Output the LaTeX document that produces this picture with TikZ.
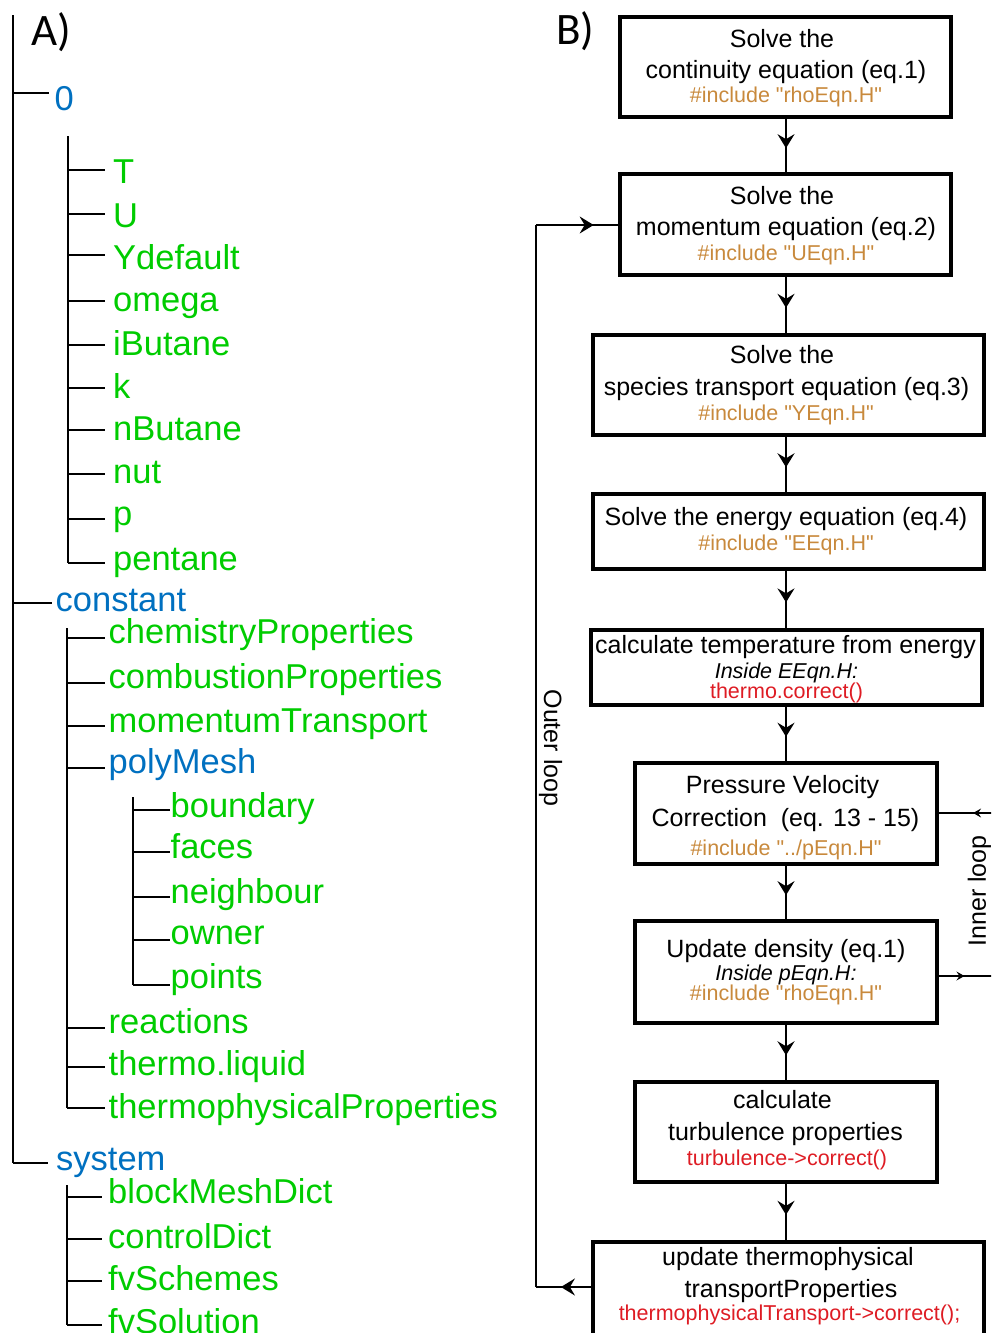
\documentclass[tikz,border=0pt]{standalone}
\usepackage{fontspec}
\setmainfont{Liberation Sans}[Ligatures=TeXOff]
\newfontfamily\LabFont{Carlito}
\usetikzlibrary{arrows.meta,decorations.markings}
\definecolor{treeblue}{RGB}{0,112,192}
\definecolor{treegreen}{RGB}{0,204,0}
\definecolor{codeorange}{RGB}{200,137,60}
\definecolor{codered}{RGB}{222,28,36}
\newcommand\TreeFont{\fontsize{34.5}{40}\selectfont}
\newcommand\BoxFont{\fontsize{25}{30}\selectfont}
\newcommand\CodeFont{\fontsize{21.5}{26}\selectfont}
\newcommand\BigLab{\LabFont\fontsize{45}{50}\selectfont}
\tikzset{
  dirnode/.style={anchor=base west, inner ysep=0pt, font=\TreeFont, text=treeblue},
  filenode/.style={anchor=base west, inner ysep=0pt, font=\TreeFont, text=treegreen},
  tline/.style={line width=2pt},
  fbox/.style={draw, line width=3.3pt, inner sep=0pt},
  btext/.style={anchor=base, inner sep=0pt, font=\BoxFont},
  ctext/.style={anchor=base, inner sep=0pt, font=\CodeFont, text=codeorange},
  rtext/.style={anchor=base, inner sep=0pt, font=\CodeFont, text=codered},
  itext/.style={anchor=base, inner sep=0pt, font=\CodeFont\itshape},
  flow/.style={line width=2pt, postaction={decorate}, decoration={markings, mark=at position #1 with {\arrow{Stealth[length=14pt,width=17pt,inset=5pt]}}}},
  loopflow/.style={line width=1.6pt, postaction={decorate}, decoration={markings, mark=at position #1 with {\arrow{Stealth[length=14pt,width=17pt,inset=5pt]}}}},
  innerflow/.style={line width=1.3pt, postaction={decorate}, decoration={markings, mark=at position #1 with {\arrow{Stealth[length=8pt,width=9pt,inset=3pt]}}}},
  looplabel/.style={font=\BoxFont, inner sep=0pt}
}
\begin{document}
\begin{tikzpicture}[x=1pt,y=-1pt]
\clip (0,0) rectangle (991,1333);
% ---------------- A) tree ----------------
\node[font=\BigLab, anchor=base west, inner sep=0pt] (labA) at (31,45) {A)};
\coordinate (vmain) at (13,15);
\node[dirnode, inner xsep=5.5pt] (d0) at (49,110) {0};
\node[dirnode, inner xsep=3.5pt] (dconst) at (52,611) {constant};
\node[dirnode, inner xsep=8pt] (dsys) at (48,1170) {system};
\draw[tline] (vmain) -- (vmain |- 0,1163);
\draw[tline] (vmain |- 0,93) -- (d0.west |- 0,93);
\draw[tline] (vmain |- 0,603) -- (dconst.west |- 0,603);
\draw[tline] (vmain |- 0,1163) -- (dsys.west |- 0,1163);
% children of 0
\coordinate (v0) at (68,136);
\draw[tline] (v0) -- (v0 |- 0,563);
\foreach \nm/\bl/\br/\txt in {fT/183/170/T, fU/227/214/U, fY/269/255/Ydefault, fom/311/301/omega,
  fiB/355/345/iButane, fk/398/388/k, fnB/440/430/nButane, fnut/483/474/nut, fp/525/519/p, fpent/570/563/pentane}{
  \node[filenode, inner xsep=8pt] (\nm) at (105,\bl) {\txt};
  \draw[tline] (v0 |- 0,\br) -- (\nm.west |- 0,\br);
}
% children of constant
\coordinate (v1) at (67,628);
\draw[tline] (v1) -- (v1 |- 0,1108);
\foreach \nm/\bl/\br/\txt in {cchem/643/638/chemistryProperties, ccomb/688/683/combustionProperties,
  cmom/732/726/momentumTransport, creac/1033/1028/reactions, cliq/1075/1067/thermo.liquid,
  cthp/1118/1108/thermophysicalProperties}{
  \node[filenode, inner xsep=3.5pt] (\nm) at (105,\bl) {\txt};
  \draw[tline] (v1 |- 0,\br) -- (\nm.west |- 0,\br);
}
\node[dirnode, inner xsep=3.5pt] (cpoly) at (105,773) {polyMesh};
\draw[tline] (v1 |- 0,768) -- (cpoly.west |- 0,768);
% children of polyMesh
\coordinate (v2) at (133,797);
\draw[tline] (v2) -- (v2 |- 0,985);
\foreach \nm/\bl/\br/\txt in {pbound/817/810/boundary, pfaces/858/852/faces, pneigh/903/897/neighbour,
  powner/944/940/owner, ppoints/988/985/points}{
  \node[filenode, inner xsep=0.5pt] (\nm) at (170,\bl) {\txt};
  \draw[tline] (v2 |- 0,\br) -- (\nm.west |- 0,\br);
}
% children of system
\coordinate (v3) at (67,1185);
\draw[tline] (v3) -- (v3 |- 0,1325);
\foreach \nm/\bl/\br/\txt in {sblock/1203/1197/blockMeshDict, sctrl/1248/1239/controlDict,
  ssch/1290/1281/fvSchemes, ssol/1333/1325/fvSolution}{
  \node[filenode, inner xsep=6pt] (\nm) at (102,\bl) {\txt};
  \draw[tline] (v3 |- 0,\br) -- (\nm.west |- 0,\br);
}
% ---------------- B) flowchart ----------------
\node[font=\BigLab, anchor=base west, inner sep=0pt] (labB) at (556,44) {B)};
\coordinate (spine) at (786,0);
\node[fbox, minimum width=331pt, minimum height=100pt] (b1) at (785.5,67) {};
\node[fbox, minimum width=331pt, minimum height=101pt] (b2) at (785.5,224.5) {};
\node[fbox, minimum width=391pt, minimum height=100pt] (b3) at (788.5,385) {};
\node[fbox, minimum width=391pt, minimum height=75pt] (b4) at (788.5,531.5) {};
\node[fbox, minimum width=391pt, minimum height=75pt] (b5) at (786.5,667.5) {};
\node[fbox, minimum width=302pt, minimum height=101pt] (b6) at (786,813.5) {};
\node[fbox, minimum width=302pt, minimum height=102pt] (b7) at (786,972) {};
\node[fbox, minimum width=302pt, minimum height=100pt] (b8) at (786,1132) {};
\node[fbox, minimum width=391pt, minimum height=100pt] (b9) at (788.5,1292) {};
% box texts
\node[btext] (t1a) at (782,47) {Solve the};
\node[btext] (t1b) at (786,78) {continuity equation (eq.1)};
\node[ctext] (t1c) at (786,102) {\#include "rhoEqn.H"};
\node[btext] (t2a) at (782,204) {Solve the};
\node[btext] (t2b) at (786,235) {momentum equation (eq.2)};
\node[ctext] (t2c) at (786,260) {\#include "UEqn.H"};
\node[btext] (t3a) at (782,363) {Solve the};
\node[btext] (t3b) at (786.5,395) {species transport equation (eq.3)};
\node[ctext] (t3c) at (786,420) {\#include "YEqn.H"};
\node[btext] (t4a) at (786,525) {Solve the energy equation (eq.4)};
\node[ctext] (t4b) at (786,550) {\#include "EEqn.H"};
\node[btext] (t5a) at (785.5,653) {calculate temperature from energy};
\node[itext] (t5b) at (786.5,678) {Inside EEqn.H:};
\node[rtext] (t5c) at (786.5,698) {thermo.correct()};
\node[btext] (t6a) at (782.5,793) {Pressure Velocity};
\node[btext] (t6b) at (785.5,826) {Correction\ \ (eq. 13 - 15)};
\node[ctext] (t6c) at (786,855) {\#include "../pEqn.H"};
\node[btext] (t7a) at (786,957) {Update density (eq.1)};
\node[itext] (t7b) at (786,980) {Inside pEqn.H:};
\node[ctext] (t7c) at (786,1000) {\#include "rhoEqn.H"};
\node[btext] (t8a) at (782.5,1108) {calculate};
\node[btext] (t8b) at (785.5,1140) {turbulence properties};
\node[rtext] (t8c) at (787,1165) {turbulence->correct()};
\node[btext] (t9a) at (788,1265) {update thermophysical};
\node[btext] (t9b) at (791,1297) {transportProperties};
\node[rtext] (t9c) at (789.5,1320) {thermophysicalTransport->correct();};
% main flow connectors
\draw[flow=0.55] (b1.south -| spine) -- (b2.north -| spine);
\draw[flow=0.55] (b2.south -| spine) -- (b3.north -| spine);
\draw[flow=0.55] (b3.south -| spine) -- (b4.north -| spine);
\draw[flow=0.55] (b4.south -| spine) -- (b5.north -| spine);
\draw[flow=0.55] (b5.south -| spine) -- (b6.north -| spine);
\draw[flow=0.55] (b6.south -| spine) -- (b7.north -| spine);
\draw[flow=0.55] (b7.south -| spine) -- (b8.north -| spine);
\draw[flow=0.55] (b8.south -| spine) -- (b9.north -| spine);
% outer loop
\coordinate (olb) at (536,1287);
\coordinate (olt) at (536,225);
\draw[loopflow=0.55] (b9.west |- olb) -- (olb);
\draw[line width=1.6pt] (olb) -- (olt);
\draw[loopflow=0.7] (olt) -- (b2.west |- olt);
\node[looplabel, rotate=-90] (outerlab) at (550.5,748) {Outer loop};
% inner loop
\coordinate (ilb) at (996,976);
\coordinate (ilt) at (996,813);
\draw[innerflow=0.45] (b7.east |- ilb) -- (ilb);
\draw[line width=1.3pt] (ilb) -- (ilt);
\draw[innerflow=0.4] (ilt) -- (b6.east |- ilt);
\node[looplabel, rotate=90] (innerlab) at (979.5,891) {Inner loop};
\end{tikzpicture}
\end{document}
